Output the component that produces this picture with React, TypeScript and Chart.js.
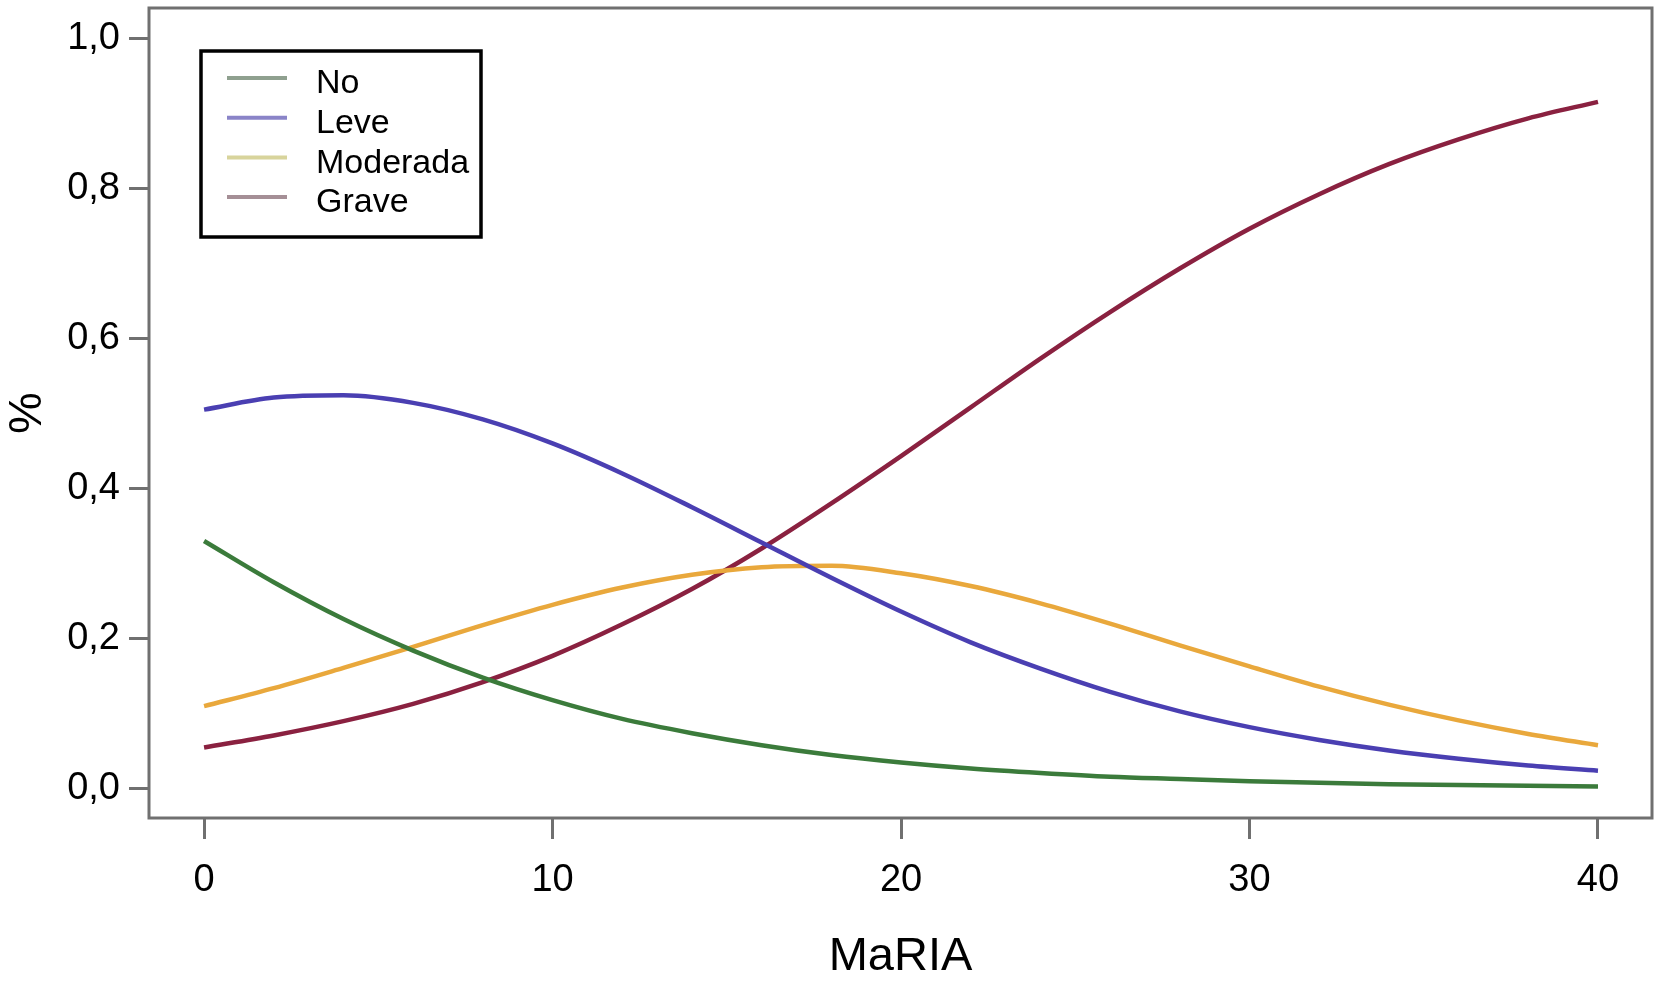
import { useRef, useEffect } from 'react';
import { Chart, registerables, type ChartConfiguration, type Plugin } from 'chart.js';

Chart.register(...registerables);

// MaRIA score positions the curves were read at
const mariaValues = [0, 2, 4, 6, 8, 10, 12, 14, 16, 18, 20, 22, 24, 26, 28, 30, 32, 34, 36, 38, 40];

// probability of each grade
const noValues = [0.330, 0.275, 0.226, 0.184, 0.148, 0.118, 0.093, 0.074, 0.058, 0.045, 0.035, 0.027, 0.021, 0.016, 0.013, 0.010, 0.008, 0.006, 0.005, 0.004, 0.003];
const leveValues = [0.505, 0.521, 0.524, 0.514, 0.492, 0.460, 0.420, 0.375, 0.328, 0.281, 0.236, 0.195, 0.160, 0.129, 0.103, 0.082, 0.065, 0.051, 0.040, 0.031, 0.024];
const moderadaValues = [0.110, 0.134, 0.161, 0.189, 0.218, 0.245, 0.268, 0.285, 0.295, 0.297, 0.287, 0.270, 0.247, 0.220, 0.191, 0.163, 0.136, 0.112, 0.091, 0.073, 0.058];
const graveValues = [0.055, 0.071, 0.090, 0.113, 0.142, 0.177, 0.219, 0.266, 0.320, 0.380, 0.443, 0.508, 0.573, 0.635, 0.693, 0.746, 0.792, 0.832, 0.865, 0.893, 0.915];

const seriesNames = ['No', 'Leve', 'Moderada', 'Grave'];
const seriesColors = ['#3b7b3b', '#4a3fb2', '#e9a83c', '#8a2140'];
const legendColors = ['#8fa08f', '#8a84c8', '#d8d49c', '#a58f96'];

const xTicks = [0, 10, 20, 30, 40];
const yTicks = [0, 0.2, 0.4, 0.6, 0.8, 1.0];

const FONT = '"Liberation Sans", Arial, Helvetica, sans-serif';

// grey frame round the plot area
const framePlugin: Plugin = {
    id: 'frame',
    beforeDatasetsDraw(chart) {
        const { ctx, chartArea } = chart;
        ctx.save();
        ctx.strokeStyle = '#707070';
        ctx.lineWidth = 3;
        ctx.strokeRect(chartArea.left, chartArea.top, chartArea.right - chartArea.left, chartArea.bottom - chartArea.top);
        ctx.restore();
    }
};

// boxed legend in the top left corner of the plot
const boxLegendPlugin: Plugin = {
    id: 'boxLegend',
    afterDraw(chart) {
        const { ctx, chartArea } = chart;
        const x0 = chartArea.left + 52;
        const y0 = chartArea.top + 43;
        ctx.save();
        ctx.fillStyle = '#ffffff';
        ctx.fillRect(x0, y0, 280, 186);
        ctx.strokeStyle = '#000000';
        ctx.lineWidth = 3.5;
        ctx.strokeRect(x0, y0, 280, 186);
        ctx.font = `34px ${FONT}`;
        ctx.textBaseline = 'middle';
        ctx.textAlign = 'left';
        seriesNames.forEach((name, i) => {
            const rowY = y0 + 27 + i * 39.7;
            ctx.strokeStyle = legendColors[i];
            ctx.lineWidth = 4;
            ctx.beginPath();
            ctx.moveTo(x0 + 26, rowY);
            ctx.lineTo(x0 + 86, rowY);
            ctx.stroke();
            ctx.fillStyle = '#000000';
            ctx.fillText(name, x0 + 115, rowY + 6);
        });
        ctx.restore();
    }
};

export default function App() {
    const chartRef = useRef<HTMLCanvasElement>(null);

    useEffect(() => {
        document.body.style.margin = '0';
        if (!chartRef.current) return;

        const allSeries = [noValues, leveValues, moderadaValues, graveValues];

        const config = {
            type: 'line',
            data: {
                datasets: allSeries.map((values, i) => ({
                    label: seriesNames[i],
                    data: mariaValues.map((m, j) => ({ x: m, y: values[j] })),
                    borderColor: seriesColors[i],
                    borderWidth: 4.5,
                    pointRadius: 0,
                    fill: false,
                    cubicInterpolationMode: 'monotone'
                }))
            },
            options: {
                responsive: false,
                animation: false,
                devicePixelRatio: 1,
                layout: { padding: { top: 8, right: 7, left: 0, bottom: 0 } },
                plugins: {
                    legend: { display: false },
                    tooltip: { enabled: false }
                },
                scales: {
                    x: {
                        type: 'linear',
                        min: -1.58,
                        max: 41.55,
                        border: { display: false },
                        grid: {
                            drawOnChartArea: false,
                            drawTicks: true,
                            tickLength: 21,
                            tickColor: '#707070',
                            tickWidth: 3
                        },
                        ticks: {
                            color: '#000000',
                            font: { family: FONT, size: 38 },
                            padding: 19,
                            maxRotation: 0
                        },
                        title: {
                            display: true,
                            text: 'MaRIA',
                            color: '#000000',
                            font: { family: FONT, size: 47 },
                            padding: 0
                        },
                        afterBuildTicks: (scale: any) => {
                            scale.ticks = xTicks.map((v) => ({ value: v }));
                        },
                        afterFit: (scale: any) => {
                            scale.height = 167;
                            scale.paddingLeft = 0;
                            scale.paddingRight = 0;
                        }
                    },
                    y: {
                        type: 'linear',
                        min: -0.039,
                        max: 1.04,
                        border: { display: false },
                        grid: {
                            drawOnChartArea: false,
                            drawTicks: true,
                            tickLength: 20,
                            tickColor: '#707070',
                            tickWidth: 3
                        },
                        ticks: {
                            color: '#000000',
                            font: { family: FONT, size: 38 },
                            padding: 9,
                            callback: (v: any) => Number(v).toFixed(1).replace('.', ',')
                        },
                        title: {
                            display: true,
                            text: '%',
                            color: '#000000',
                            font: { family: FONT, size: 47 },
                            padding: 0
                        },
                        afterBuildTicks: (scale: any) => {
                            scale.ticks = yTicks.map((v) => ({ value: v }));
                        },
                        afterFit: (scale: any) => {
                            scale.width = 149;
                            scale.paddingTop = 0;
                            scale.paddingBottom = 0;
                        }
                    }
                }
            },
            plugins: [framePlugin, boxLegendPlugin]
        };

        const chart = new Chart(chartRef.current, config as unknown as ChartConfiguration);

        return () => {
            chart.destroy();
        };
    }, []);

    return (
        <div style={{ width: 1659, height: 985, background: '#ffffff' }}>
            <canvas ref={chartRef} width={1659} height={985} style={{ display: 'block' }}></canvas>
        </div>
    );
}
